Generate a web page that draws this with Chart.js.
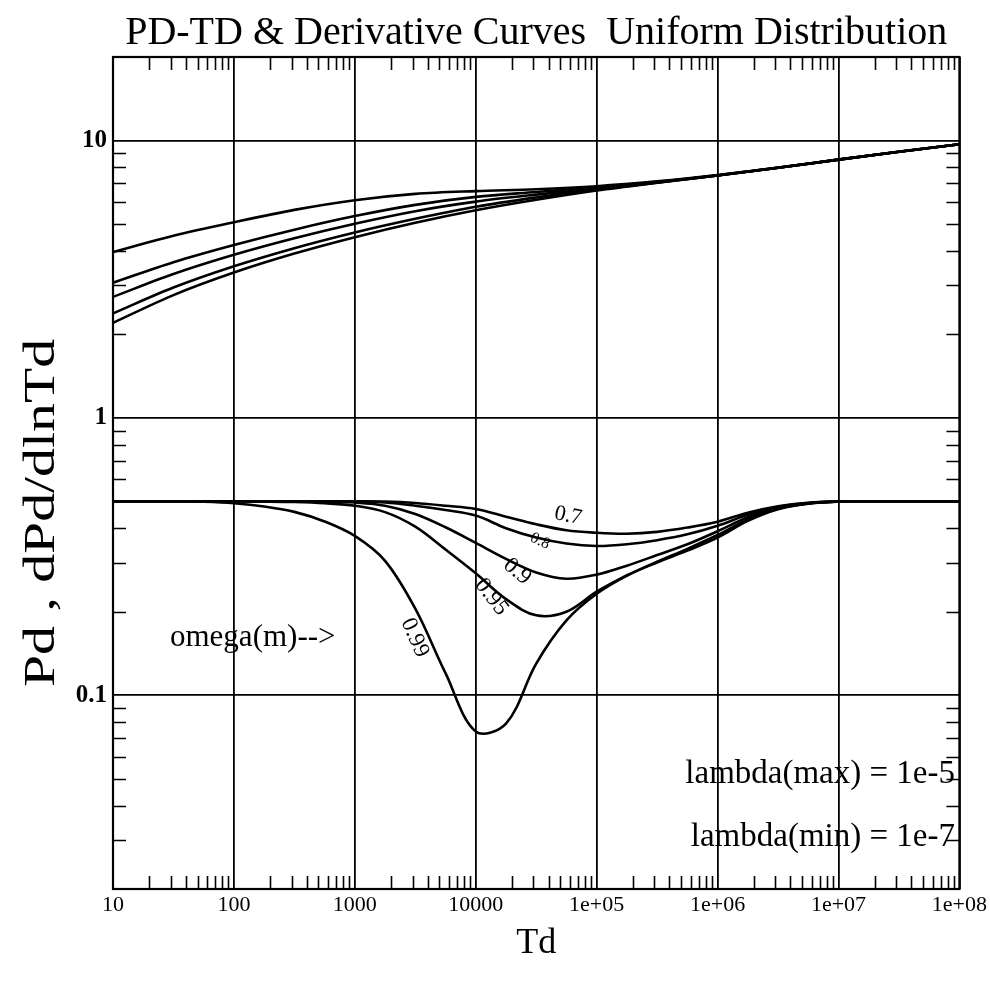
<!DOCTYPE html>
<html>
<head>
<meta charset="utf-8">
<title>PD-TD & Derivative Curves</title>
<script src="https://cdn.jsdelivr.net/npm/chart.js@4/dist/chart.umd.min.js"></script>
<style>
  html, body { margin: 0; padding: 0; background: #fff; }
  #wrap { width: 990px; height: 987px; }
</style>
</head>
<body>
<div id="wrap"><canvas id="curves"></canvas></div>
<script>
// Td grid, half decades (pressure curves)
const tdHalf = [10, 31.6, 100, 316, 1000, 3162, 1e4, 31623, 1e5, 316228, 1e6, 3162278, 1e7, 31622777, 1e8];
// Td grid, quarter decades (derivative curves)
const tdQuarter = [10, 17.8, 31.6, 56.2, 100, 178, 316, 562, 1000, 1778, 3162, 5623, 1e4, 17783, 31623, 56234,
  1e5, 177828, 316228, 562341, 1e6, 1778279, 3162278, 5623413, 1e7, 17782794, 31622777, 56234133, 1e8];

const omegas = ['0.7', '0.8', '0.9', '0.95', '0.99'];

// Pd
const pd070 = [2.20, 2.77, 3.34, 3.91, 4.48, 5.05, 5.60, 6.11, 6.60, 7.04, 7.48, 7.97, 8.53, 9.11, 9.69];
const pd080 = [2.38, 2.95, 3.52, 4.09, 4.66, 5.22, 5.77, 6.23, 6.65, 7.05, 7.48, 7.97, 8.53, 9.11, 9.69];
const pd090 = [2.73, 3.30, 3.87, 4.44, 5.01, 5.56, 6.02, 6.38, 6.71, 7.06, 7.48, 7.97, 8.53, 9.11, 9.69];
const pd095 = [3.07, 3.64, 4.20, 4.77, 5.34, 5.86, 6.26, 6.52, 6.78, 7.09, 7.49, 7.97, 8.53, 9.11, 9.69];
const pd099 = [3.96, 4.53, 5.07, 5.62, 6.09, 6.42, 6.57, 6.67, 6.84, 7.12, 7.50, 7.98, 8.54, 9.11, 9.69];

// dPd/dlnTd
const dpd070 = [0.5, 0.5, 0.5, 0.5, 0.5, 0.5, 0.5, 0.5, 0.5, 0.499, 0.493, 0.482, 0.469, 0.440, 0.413, 0.393,
  0.385, 0.382, 0.388, 0.402, 0.422, 0.455, 0.480, 0.494, 0.499, 0.5, 0.5, 0.5, 0.5];
const dpd080 = [0.5, 0.5, 0.5, 0.5, 0.5, 0.5, 0.5, 0.5, 0.499, 0.495, 0.482, 0.465, 0.444, 0.400, 0.370, 0.352,
  0.345, 0.350, 0.362, 0.380, 0.408, 0.447, 0.477, 0.493, 0.499, 0.5, 0.5, 0.5, 0.5];
const dpd090 = [0.5, 0.5, 0.5, 0.5, 0.5, 0.5, 0.5, 0.499, 0.495, 0.482, 0.450, 0.403, 0.354, 0.310, 0.277, 0.263,
  0.272, 0.293, 0.320, 0.350, 0.390, 0.438, 0.473, 0.492, 0.499, 0.5, 0.5, 0.5, 0.5];
const dpd095 = [0.5, 0.5, 0.5, 0.5, 0.5, 0.499, 0.497, 0.492, 0.482, 0.457, 0.405, 0.335, 0.275, 0.222, 0.194, 0.200,
  0.236, 0.270, 0.303, 0.337, 0.378, 0.430, 0.470, 0.491, 0.499, 0.5, 0.5, 0.5, 0.5];
const dpd099 = [0.5, 0.5, 0.5, 0.498, 0.492, 0.479, 0.458, 0.423, 0.375, 0.305, 0.205, 0.120, 0.074, 0.079, 0.130, 0.186,
  0.232, 0.270, 0.301, 0.332, 0.370, 0.425, 0.468, 0.490, 0.499, 0.5, 0.5, 0.5, 0.5];

const xTickValues = [10, 100, 1000, 10000, 1e5, 1e6, 1e7, 1e8];
const xTickLabels = ['10', '100', '1000', '10000', '1e+05', '1e+06', '1e+07', '1e+08'];
const yTickValues = [0.1, 1, 10];
const yTickLabels = ['0.1', '1', '10'];

const SERIF = "'Liberation Serif', 'DejaVu Serif', serif";

function curve(xs, ys, smooth) {
  return {
    data: xs.map((t, i) => ({ x: t, y: ys[i] })),
    borderColor: '#000',
    borderWidth: 2.6,
    pointRadius: 0,
    fill: false,
    ...(smooth ? { tension: 0.35 } : { cubicInterpolationMode: 'monotone' })
  };
}

const datasets = [
  curve(tdHalf, pd070), curve(tdHalf, pd080), curve(tdHalf, pd090), curve(tdHalf, pd095), curve(tdHalf, pd099),
  curve(tdQuarter, dpd070, true), curve(tdQuarter, dpd080, true), curve(tdQuarter, dpd090, true),
  curve(tdQuarter, dpd095, true), curve(tdQuarter, dpd099, true)
];

// frame, inner minor ticks and the text written on the plot
const paperPlugin = {
  id: 'paper',
  afterLayout(chart) {
    // centre the title over the plot box, not the whole canvas
    if (chart.titleBlock) {
      chart.titleBlock.left = chart.chartArea.left;
      chart.titleBlock.right = chart.chartArea.right;
    }
  },
  afterDraw(chart) {
    const { ctx, chartArea: a, scales: { x, y } } = chart;
    ctx.save();
    ctx.strokeStyle = '#000';
    ctx.fillStyle = '#000';

    // minor ticks 2..9 in each decade, pointing inward
    const tick = 13;
    ctx.lineWidth = 1.6;
    ctx.beginPath();
    for (let d = 10; d < 1e8; d *= 10) {
      for (let m = 2; m <= 9; m++) {
        const px = Math.round(x.getPixelForValue(m * d)) + 0.5;
        ctx.moveTo(px, a.bottom); ctx.lineTo(px, a.bottom - tick);
        ctx.moveTo(px, a.top); ctx.lineTo(px, a.top + tick);
      }
    }
    for (let d = 0.01; d < 20; d *= 10) {
      for (let m = 2; m <= 9; m++) {
        const v = m * d;
        if (v <= y.min || v >= y.max) continue;
        const py = Math.round(y.getPixelForValue(v)) + 0.5;
        ctx.moveTo(a.left, py); ctx.lineTo(a.left + tick, py);
        ctx.moveTo(a.right, py); ctx.lineTo(a.right - tick, py);
      }
    }
    ctx.stroke();

    ctx.lineWidth = 2.2;
    ctx.strokeRect(a.left, a.top, a.right - a.left, a.bottom - a.top);

    // omega labels along the derivative curves
    const tags = [
      { t: omegas[0], x: 5.8e4, y: 0.443, rot: 12, size: 22 },
      { t: omegas[1], x: 3.4e4, y: 0.359, rot: 25, size: 16 },
      { t: omegas[2], x: 2.2e4, y: 0.279, rot: 40, size: 23 },
      { t: omegas[3], x: 1.35e4, y: 0.226, rot: 52, size: 23 },
      { t: omegas[4], x: 3130, y: 0.161, rot: 66, size: 23 }
    ];
    ctx.textAlign = 'center';
    ctx.textBaseline = 'middle';
    tags.forEach(g => {
      ctx.save();
      ctx.translate(x.getPixelForValue(g.x), y.getPixelForValue(g.y));
      ctx.rotate(g.rot * Math.PI / 180);
      ctx.font = g.size + 'px ' + SERIF;
      ctx.fillText(g.t, 0, 0);
      ctx.restore();
    });

    ctx.font = '31px ' + SERIF;
    ctx.textAlign = 'left';
    ctx.fillText('omega(m)-->', 170, 638);
    ctx.font = '33px ' + SERIF;
    ctx.textAlign = 'right';
    ctx.fillText('lambda(max) = 1e-5', 955, 774);
    ctx.fillText('lambda(min) = 1e-7', 955, 837);

    // y axis title, rotated and drawn long like the original plot
    ctx.save();
    ctx.translate(42, 513);
    ctx.rotate(-Math.PI / 2);
    ctx.textAlign = 'center';
    ctx.font = '45px ' + SERIF;
    const label = 'Pd , dPd/dlnTd';
    ctx.scale(348 / ctx.measureText(label).width, 1);
    ctx.fillText(label, 0, 0);
    ctx.restore();

    ctx.restore();
  }
};

new Chart(document.getElementById('curves'), {
  type: 'line',
  data: { datasets },
  plugins: [paperPlugin],
  options: {
    responsive: true,
    maintainAspectRatio: false,
    animation: false,
    layout: { padding: { left: 0, right: 30, top: 0, bottom: 0 } },
    plugins: {
      legend: { display: false },
      tooltip: { enabled: false },
      title: {
        display: true,
        text: 'PD-TD & Derivative Curves  Uniform Distribution',
        color: '#000',
        font: { family: SERIF, size: 40, weight: 'normal', lineHeight: 1.2 },
        padding: { top: 9, bottom: 0 }
      }
    },
    scales: {
      x: {
        type: 'logarithmic',
        min: 10,
        max: 1e8,
        afterBuildTicks: (s) => { s.ticks = xTickValues.map(v => ({ value: v })); },
        afterFit: (s) => { s.height = 98; },
        grid: { color: '#000', lineWidth: 1.8, drawTicks: false },
        border: { display: false },
        ticks: {
          color: '#000',
          padding: 3,
          maxRotation: 0,
          autoSkip: false,
          font: { family: SERIF, size: 22 },
          callback: (v, i) => xTickLabels[i]
        },
        title: {
          display: true,
          text: 'Td',
          color: '#000',
          font: { family: SERIF, size: 36 },
          padding: { top: 0, bottom: 22 }
        }
      },
      y: {
        type: 'logarithmic',
        min: 0.02,
        max: 20,
        afterBuildTicks: (s) => { s.ticks = yTickValues.map(v => ({ value: v })); },
        afterFit: (s) => { s.width = 113; },
        grid: { color: '#000', lineWidth: 1.8, drawTicks: false },
        border: { display: false },
        ticks: {
          color: '#000',
          padding: 6,
          autoSkip: false,
          font: { family: SERIF, size: 25, weight: 'bold' },
          callback: (v, i) => yTickLabels[i]
        }
      }
    }
  }
});
</script>
</body>
</html>
